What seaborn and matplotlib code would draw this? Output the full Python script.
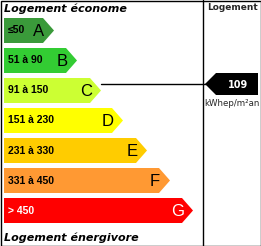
import matplotlib
matplotlib.use("Agg")
import matplotlib.pyplot as plt
from matplotlib.patches import Polygon, Rectangle
import seaborn as sns

# -----------------------------
# Data
# -----------------------------
classes = ["A", "B", "C", "D", "E", "F", "G"]
ranges = ["≤50", "51 à 90", "91 à 150", "151 à 230", "231 à 330", "331 à 450", "> 450"]
bar_len = [39, 62, 86, 108, 132, 155, 178]
colors = ["#3a9a3a", "#33cc33", "#ccff33", "#ffff00", "#ffcc00", "#ff9933", "#ff0000"]
text_col = ["black"] * 6 + ["white"]
value = 109
value_class = "C"
unit = "kWhep/m²an"

sns.set_style("white")
plt.rcParams["font.family"] = ["DejaVu Sans"]

W, H = 261, 246
fig = plt.figure(figsize=(W / 100, H / 100), dpi=100)

# bars (categorical axis, pixel-like x units)
ax = fig.add_axes([0, 0, 1, 1])
sns.barplot(x=bar_len, y=classes, hue=classes, palette=colors, legend=False,
            orient="h", width=25 / 30, linewidth=0, saturation=1, ax=ax)
ax.set_xlim(-4, W - 4)
ax.set_ylim((H - 30.5) / 30, -30.5 / 30)
ax.axis("off")

tip = 11
tips = {}
for cls, p, rng, tc in zip(classes, ax.patches, ranges, text_col):
    x0, w, y0, h = p.get_x(), p.get_width(), p.get_y(), p.get_height()
    ax.add_patch(Polygon([(x0 + w, y0), (x0 + w + tip, y0 + h / 2), (x0 + w, y0 + h)],
                         closed=True, facecolor=p.get_facecolor(), edgecolor="none"))
    yc = y0 + h / 2
    ax.text(x0 + 4, yc, rng, ha="left", va="center", fontsize=7.5, fontweight="bold",
            color=tc, family=["Liberation Sans", "DejaVu Sans"])
    ax.text(x0 + w + tip - 15, yc + 0.02, cls, ha="center", va="center", fontsize=12,
            color=tc, family=["Liberation Sans", "DejaVu Sans"])
    tips[cls] = x0 + w + tip + 4  # px

# overlay in pixel coordinates
ov = fig.add_axes([0, 0, 1, 1])
ov.set_xlim(0, W)
ov.set_ylim(H, 0)
ov.axis("off")
ov.patch.set_alpha(0)

ov.add_patch(Rectangle((0.5, 0.5), W - 1, H - 1, fill=False, edgecolor="black", lw=1))
ov.plot([202.5, 202.5], [0, H], color="black", lw=1)

ov.text(4, 9, "Logement économe", ha="left", va="center", fontsize=8,
        fontweight="bold", fontstyle="italic", color="black")
ov.text(4, 238, "Logement énergivore", ha="left", va="center", fontsize=8,
        fontweight="bold", fontstyle="italic", color="black")
ov.text(233, 7, "Logement", ha="center", va="center", fontsize=6.5, fontweight="bold")

ly = 84
ov.plot([tips[value_class], 206], [ly, ly], color="black", lw=1)
ov.add_patch(Polygon([(205, ly), (216, ly - 11), (258, ly - 11), (258, ly + 11), (216, ly + 11)],
                     closed=True, facecolor="black", edgecolor="none"))
ov.text(238, ly + 0.5, str(value), ha="center", va="center", fontsize=7,
        fontweight="bold", color="white")
ov.text(231.5, 103, unit, ha="center", va="center", fontsize=6.2)

fig.savefig("out.png", dpi=100)
